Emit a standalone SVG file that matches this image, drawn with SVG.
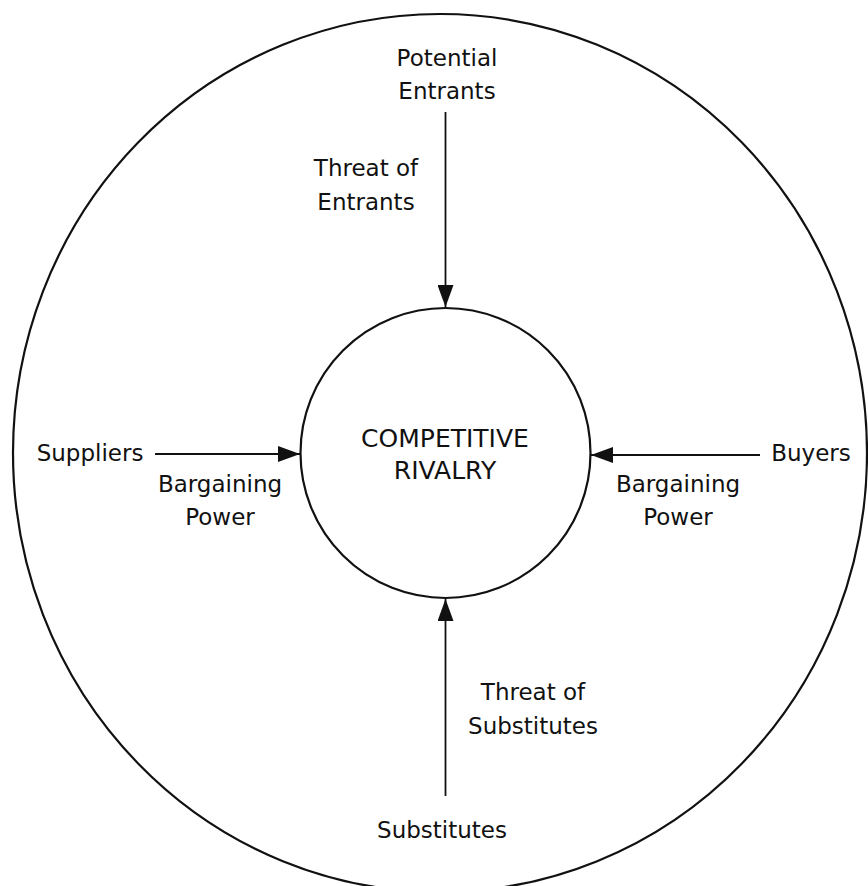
<svg xmlns="http://www.w3.org/2000/svg" width="868" height="886" viewBox="0 0 868 886">
<style>
text{font-family:"DejaVu Sans","Liberation Sans",sans-serif;font-size:23px;fill:#111;text-anchor:middle}
.c{fill:none;stroke:#111;stroke-width:2.2}
.a{stroke:#111;stroke-width:1.8;fill:none;marker-end:url(#ah)}
</style>
<defs>
<marker id="ah" markerUnits="userSpaceOnUse" markerWidth="24" markerHeight="16" refX="22" refY="8" orient="auto">
<path d="M0,0 L22,8 L0,16 Z" fill="#111"/>
</marker>
</defs>
<rect width="868" height="886" fill="#fff"/>
<g id="outer"><ellipse class="c" cx="440" cy="453" rx="427" ry="439"/></g>
<g id="connectors">
<line class="a" x1="445.5" y1="112" x2="445.5" y2="307"/>
<line class="a" x1="155" y1="454" x2="300" y2="454"/>
<line class="a" x1="760" y1="455" x2="591" y2="455"/>
<line class="a" x1="445.5" y1="796" x2="445.5" y2="599"/>
</g>
<g id="rivalry"><circle class="c" cx="445.5" cy="453" r="145"/>
<text x="445" y="447" style="font-size:25px">COMPETITIVE</text>
<text x="445" y="479" style="font-size:25px">RIVALRY</text></g>
<g id="entrants"><text x="447" y="66">Potential</text><text x="447" y="99">Entrants</text></g>
<g id="threat-entrants"><text x="366" y="176">Threat of</text><text x="366" y="210">Entrants</text></g>
<g id="suppliers"><text x="90" y="461">Suppliers</text></g>
<g id="bp-left"><text x="220" y="492">Bargaining</text><text x="220" y="525">Power</text></g>
<g id="buyers"><text x="811" y="461">Buyers</text></g>
<g id="bp-right"><text x="678" y="492">Bargaining</text><text x="678" y="525">Power</text></g>
<g id="threat-subs"><text x="533" y="700">Threat of</text><text x="533" y="734">Substitutes</text></g>
<g id="substitutes"><text x="442" y="838">Substitutes</text></g>
</svg>
